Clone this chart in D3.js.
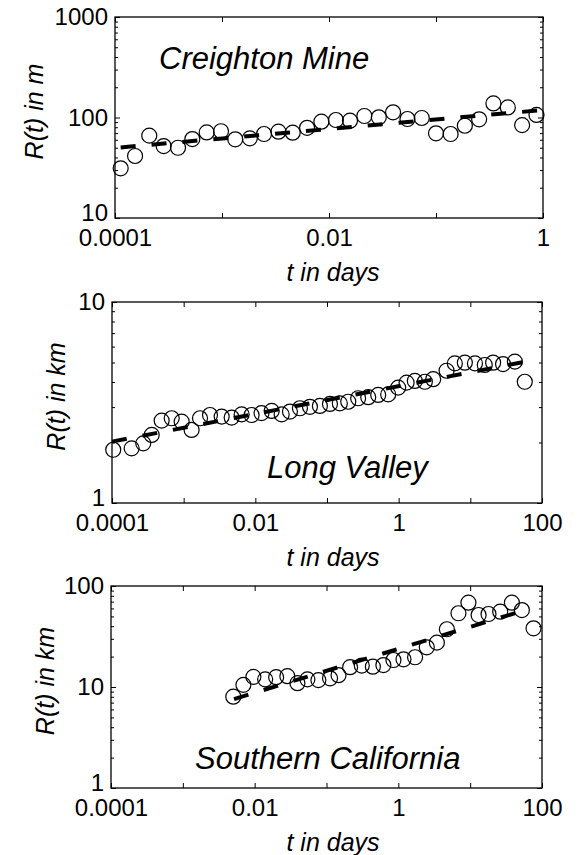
<!DOCTYPE html>
<html>
<head>
<meta charset="utf-8">
<script src="https://cdn.jsdelivr.net/npm/d3@7"></script>
<style>
  body { margin: 0; background: #fff; }
  svg text { font-family: "Liberation Sans", Arial, Helvetica, sans-serif; fill: #000; }
</style>
</head>
<body>
<svg id="chart" width="581" height="855"></svg>
<script>
// Creighton Mine (R in m)
const creightonT = [1.13e-4, 1.54e-4, 2.09e-4, 2.85e-4, 3.88e-4, 5.28e-4, 7.19e-4, 9.79e-4, 1.33e-3, 1.82e-3,
  2.47e-3, 3.37e-3, 4.58e-3, 6.24e-3, 8.49e-3, 0.0116, 0.0157, 0.0214, 0.0292, 0.0397,
  0.0541, 0.0736, 0.100, 0.137, 0.186, 0.253, 0.344, 0.469, 0.638, 0.869];
const creightonR = [31.2, 41.4, 66, 52, 50, 61, 71, 73, 60.7, 62,
  68.5, 72.2, 70.6, 79, 90.8, 94.4, 93, 103.5, 100.5, 112.7,
  96.6, 98.9, 69.6, 68.5, 82.8, 96, 138, 126, 84, 106];
const creightonFitT = [1.13e-4, 0.94];
const creightonFitR = [50.4, 118];

// Long Valley (R in km)
const longValleyT = [1.04e-4, 1.88e-4, 2.73e-4, 3.58e-4, 4.93e-4, 6.81e-4, 9.38e-4, 1.29e-3, 1.69e-3, 2.33e-3,
  3.39e-3, 4.67e-3, 6.44e-3, 8.87e-3, 0.0122, 0.0169, 0.0233, 0.0304, 0.0419, 0.0578,
  0.0796, 0.110, 0.151, 0.198, 0.272, 0.376, 0.518, 0.714, 0.984, 1.29,
  1.68, 2.32, 3.03, 4.66, 6.08, 8.38, 11.6, 15.9, 20.8, 28.6, 41.8, 57.5];
const longValleyR = [1.84, 1.87, 1.98, 2.18, 2.57, 2.64, 2.54, 2.31, 2.64, 2.74,
  2.69, 2.66, 2.76, 2.74, 2.80, 2.87, 2.76, 2.85, 2.96, 3.01,
  3.04, 3.11, 3.13, 3.19, 3.32, 3.36, 3.45, 3.47, 3.75, 3.97,
  4.05, 4.01, 4.13, 4.55, 4.95, 4.99, 4.95, 4.86, 4.99, 4.91, 5.05, 4.01];
const longValleyFitT = [1.0e-4, 54];
const longValleyFitR = [2.02, 5.02];

// Southern California (R in km)
const socalT = [5.04e-3, 6.97e-3, 9.6e-3, 0.0140, 0.0199, 0.0285, 0.0394, 0.0542, 0.0771, 0.112,
  0.147, 0.213, 0.310, 0.442, 0.619, 0.855, 1.18, 1.71, 2.49, 3.44,
  4.74, 6.87, 9.46, 13.1, 18.0, 26.2, 38.1, 52.5, 76.2];
const socalR = [8.02, 10.5, 12.6, 11.9, 12.5, 12.8, 10.9, 11.9, 11.7, 12.2,
  13.1, 15.7, 16.3, 15.9, 16.5, 18.5, 18.8, 19.7, 24.7, 27.5,
  37.3, 53.7, 68.4, 51.6, 52.8, 55.7, 68.4, 57.8, 38.1];
const socalFitT = [5.16e-3, 46.7];
const socalFitR = [7.6, 55];

// tick labels
const xTicks1 = [1e-4, 1e-2, 1];
const xTickLabels1 = ["0.0001", "0.01", "1"];
const xTicks23 = [1e-4, 1e-2, 1, 100];
const xTickLabels23 = ["0.0001", "0.01", "1", "100"];
const yTicks1 = [10, 100, 1000];
const yTicks2 = [1, 10];
const yTicks3 = [1, 10, 100];

const panels = [
  { t: creightonT, r: creightonR, fitT: creightonFitT, fitR: creightonFitR,
    xDomain: [1e-4, 1], yDomain: [10, 1000], xTicks: xTicks1, xLabels: xTickLabels1, yTicks: yTicks1,
    box: { left: 115, right: 543, top: 17, bottom: 218 },
    title: "Creighton Mine", titlePos: [159, 69], yLabel: "R(t) in m", yLabelX: 43 },
  { t: longValleyT, r: longValleyR, fitT: longValleyFitT, fitR: longValleyFitR,
    xDomain: [1e-4, 100], yDomain: [1, 10], xTicks: xTicks23, xLabels: xTickLabels23, yTicks: yTicks2,
    box: { left: 112, right: 542, top: 302, bottom: 503 },
    title: "Long Valley", titlePos: [267, 478], yLabel: "R(t) in km", yLabelX: 65 },
  { t: socalT, r: socalR, fitT: socalFitT, fitR: socalFitR,
    xDomain: [1e-4, 100], yDomain: [1, 100], xTicks: xTicks23, xLabels: xTickLabels23, yTicks: yTicks3,
    box: { left: 111, right: 542, top: 586, bottom: 788 },
    title: "Southern California", titlePos: [195, 769], yLabel: "R(t) in km", yLabelX: 54 }
];

const svg = d3.select('#chart');

function minorTicks(domain) {
  const out = [];
  for (let dec = domain[0]; dec < domain[1]; dec *= 10) {
    for (let k = 2; k <= 9; k++) out.push(dec * k);
  }
  return out;
}

function decades(domain) {
  const out = [];
  for (let dec = domain[0]; dec <= domain[1] * 1.0001; dec *= 10) out.push(dec);
  return out;
}

function drawPanel(p) {
  const b = p.box;
  const x = d3.scaleLog().domain(p.xDomain).range([b.left, b.right]);
  const y = d3.scaleLog().domain(p.yDomain).range([b.bottom, b.top]);
  const g = svg.append('g');

  // inward ticks, left/right: minor then major with labels
  g.append('g')
    .attr('transform', 'translate(' + b.left + ',0)')
    .call(d3.axisLeft(y).tickValues(minorTicks(p.yDomain)).tickSizeInner(-3).tickSizeOuter(0).tickFormat(''));
  const yAxis = g.append('g')
    .attr('transform', 'translate(' + b.left + ',0)')
    .call(d3.axisLeft(y).tickValues(p.yTicks).tickSizeInner(-5).tickSizeOuter(0).tickPadding(7)
      .tickFormat(d3.format('d')));
  // lowest label sits a little above its tick, clear of the x labels
  yAxis.selectAll('.tick text').filter((d) => d === p.yDomain[0]).attr('dy', '0.12em');
  g.append('g')
    .attr('transform', 'translate(' + b.right + ',0)')
    .call(d3.axisRight(y).tickValues(minorTicks(p.yDomain)).tickSizeInner(-3).tickSizeOuter(0).tickFormat(''));
  g.append('g')
    .attr('transform', 'translate(' + b.right + ',0)')
    .call(d3.axisRight(y).tickValues(p.yTicks).tickSizeInner(-5).tickSizeOuter(0).tickFormat(''));

  // x axes, ticks every decade, labels every other
  g.append('g')
    .attr('transform', 'translate(0,' + b.bottom + ')')
    .call(d3.axisBottom(x).tickValues(decades(p.xDomain)).tickSizeInner(-5).tickSizeOuter(0).tickPadding(11)
      .tickFormat(function (d) {
        const i = p.xTicks.findIndex((v) => Math.abs(Math.log10(v) - Math.log10(d)) < 1e-6);
        return i >= 0 ? p.xLabels[i] : '';
      }));
  g.append('g')
    .attr('transform', 'translate(0,' + b.top + ')')
    .call(d3.axisTop(x).tickValues(decades(p.xDomain)).tickSizeInner(-5).tickSizeOuter(0).tickFormat(''));

  g.selectAll('.tick line').attr('stroke', '#000').attr('stroke-width', 1);
  g.selectAll('.domain').remove();
  g.selectAll('.tick text').style('font-size', '24px').attr('fill', '#000');

  // frame
  g.append('rect')
    .attr('x', b.left).attr('y', b.top)
    .attr('width', b.right - b.left).attr('height', b.bottom - b.top)
    .attr('fill', 'none').attr('stroke', '#000').attr('stroke-width', 1.3);

  // data circles
  g.selectAll('circle.pt')
    .data(p.t.map((t, i) => ({ t: t, r: p.r[i] })))
    .join('circle')
    .attr('class', 'pt')
    .attr('cx', (d) => x(d.t))
    .attr('cy', (d) => y(d.r))
    .attr('r', 7.5)
    .attr('fill', 'none')
    .attr('stroke', '#000')
    .attr('stroke-width', 1.2);

  // dashed power-law fit
  const line = d3.line().x((d) => x(d.t)).y((d) => y(d.r));
  g.append('path')
    .datum(p.fitT.map((t, i) => ({ t: t, r: p.fitR[i] })))
    .attr('d', line)
    .attr('fill', 'none')
    .attr('stroke', '#000')
    .attr('stroke-width', 4)
    .attr('stroke-dasharray', '15,16');

  // labels
  g.append('text')
    .attr('x', p.titlePos[0]).attr('y', p.titlePos[1])
    .style('font-size', '31px').style('font-style', 'italic')
    .text(p.title);
  g.append('text')
    .attr('transform', 'translate(' + p.yLabelX + ',' + ((b.top + b.bottom) / 2 - 6) + ') rotate(-90)')
    .attr('text-anchor', 'middle')
    .style('font-size', '25px').style('font-style', 'italic')
    .text(p.yLabel);
  g.append('text')
    .attr('x', 333).attr('y', b.bottom + 63)
    .attr('text-anchor', 'middle')
    .style('font-size', '25px').style('font-style', 'italic')
    .text('t in days');
}

panels.forEach(drawPanel);
</script>
</body>
</html>
